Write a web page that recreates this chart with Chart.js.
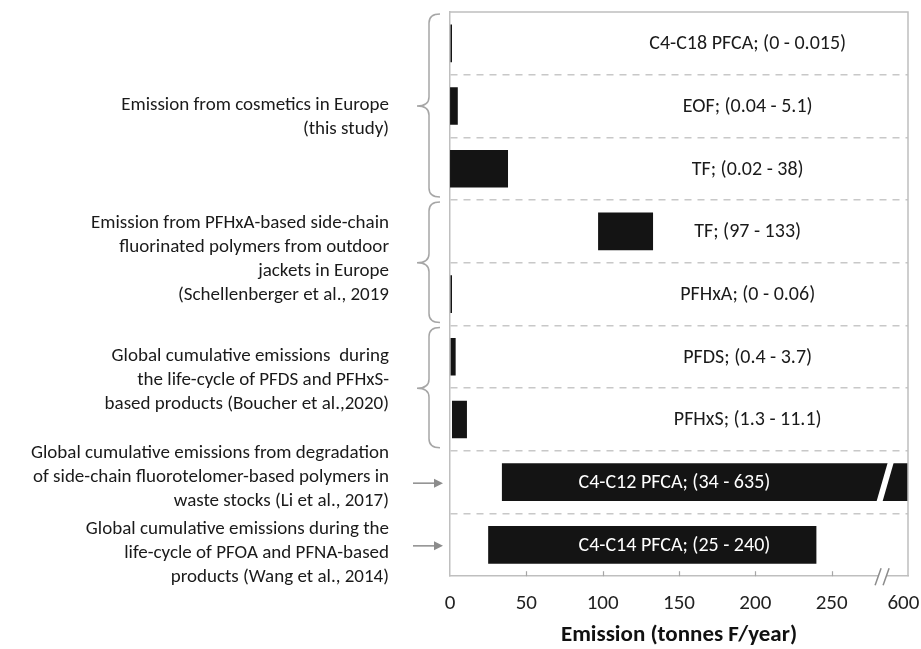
<!DOCTYPE html>
<html>
<head>
<meta charset="utf-8">
<script src="https://cdn.jsdelivr.net/npm/chart.js@4.4.1/dist/chart.umd.min.js"></script>
<style>
html,body{margin:0;padding:0;background:#fff;}
#wrap{width:921px;height:649px;position:relative;}
</style>
</head>
<body>
<div id="wrap"><canvas id="c" width="921" height="649"></canvas></div>
<script>
// ---------- data ----------
const categories = ['C4-C18 PFCA', 'EOF', 'TF', 'TF', 'PFHxA', 'PFDS', 'PFHxS', 'C4-C12 PFCA', 'C4-C14 PFCA'];
const lowValues  = [0, 0.04, 0.02, 97, 0, 0.4, 1.3, 34, 25];
const highValues = [0.015, 5.1, 38, 133, 0.06, 3.7, 11.1, 635, 240];
const rangeLabels = ['(0 - 0.015)', '(0.04 - 5.1)', '(0.02 - 38)', '(97 - 133)', '(0 - 0.06)', '(0.4 - 3.7)', '(1.3 - 11.1)', '(34 - 635)', '(25 - 240)'];
const labelInsideBar = [false, false, false, false, false, false, false, true, true];
const tickValues = [0, 50, 100, 150, 200, 250, 297];   // last tick sits past the axis break
const tickLabels = ['0', '50', '100', '150', '200', '250', '600'];
const axisTitle = 'Emission (tonnes F/year)';

const groupTexts = [
  ['Emission from cosmetics in Europe', '(this study)'],
  ['Emission from PFHxA-based side-chain', 'fluorinated polymers from outdoor', 'jackets in Europe', '(Schellenberger et al., 2019'],
  ['Global cumulative emissions  during', 'the life-cycle of PFDS and PFHxS-', 'based products (Boucher et al.,2020)'],
  ['Global cumulative emissions from degradation', 'of side-chain fluorotelomer-based polymers in', 'waste stocks (Li et al., 2017)'],
  ['Global cumulative emissions during the', 'life-cycle of PFOA and PFNA-based', 'products (Wang et al., 2014)']
];
const groupFirstRow = [0, 3, 5, 7, 8];
const groupLastRow  = [2, 4, 6, 7, 8];
const groupMarker   = ['brace', 'brace', 'brace', 'arrow', 'arrow'];

// ---------- layout / style ----------
const groupTextShift = [11, -4, -8, -5, 8];   // px, vertical nudge of each text block
const breakAt = 285;   // where the axis break is drawn (compressed scale)
const breakRow = 7;
const FONT = 'Carlito, Lato, "Open Sans", sans-serif';
const GREY = '#bfbfbf';
Chart.defaults.font.family = FONT;
Chart.defaults.color = '#222';

const decor = {
  id: 'decor',
  beforeDraw(chart) {
    const ctx = chart.ctx;
    ctx.save();
    ctx.fillStyle = '#fff';
    ctx.fillRect(0, 0, chart.width, chart.height);
    ctx.restore();
  },
  afterDatasetsDraw(chart) {
    const {ctx, chartArea: ca, scales: {x, y}} = chart;
    ctx.save();
    // frame top & right
    ctx.strokeStyle = GREY;
    ctx.lineWidth = 1.5;
    ctx.beginPath();
    ctx.moveTo(ca.left, ca.top);
    ctx.lineTo(ca.right, ca.top);
    ctx.lineTo(ca.right, ca.bottom);
    ctx.stroke();

    // inside tick marks
    ctx.strokeStyle = '#a6a6a6';
    ctx.lineWidth = 1.2;
    for (let i = 1; i < tickValues.length - 1; i++) {
      const px = Math.round(x.getPixelForValue(tickValues[i])) + 0.5;
      ctx.beginPath();
      ctx.moveTo(px, ca.bottom);
      ctx.lineTo(px, ca.bottom - 5);
      ctx.stroke();
    }

    // break on the long bar
    const bar = chart.getDatasetMeta(0).data[breakRow];
    const bp = bar.getProps(['y', 'height'], true);
    const bx = x.getPixelForValue(breakAt);
    const t = bp.y - bp.height / 2 - 2, b = bp.y + bp.height / 2 + 2;
    ctx.fillStyle = '#fff';
    ctx.beginPath();
    ctx.moveTo(bx + 3, t);
    ctx.lineTo(bx + 9, t);
    ctx.lineTo(bx - 3, b);
    ctx.lineTo(bx - 9, b);
    ctx.closePath();
    ctx.fill();

    // break on the axis
    const ay = ca.bottom;
    const ax = bx - 3;
    ctx.fillStyle = '#fff';
    ctx.beginPath();
    ctx.moveTo(ax - 4, ay + 2);
    ctx.lineTo(ax + 4, ay + 2);
    ctx.lineTo(ax + 5, ay - 2);
    ctx.lineTo(ax - 3, ay - 2);
    ctx.closePath();
    ctx.fill();
    ctx.strokeStyle = '#8c8c8c';
    ctx.lineWidth = 1.5;
    [-4, 4].forEach(d => {
      ctx.beginPath();
      ctx.moveTo(ax + d - 3, ay + 9);
      ctx.lineTo(ax + d + 3, ay - 8);
      ctx.stroke();
    });

    // row labels
    ctx.font = '20px ' + FONT;
    ctx.textAlign = 'center';
    ctx.textBaseline = 'middle';
    const w = ca.right - ca.left;
    for (let i = 0; i < categories.length; i++) {
      const yc = y.getPixelForValue(i);
      const inside = labelInsideBar[i];
      ctx.fillStyle = inside ? '#ffffff' : '#1a1a1a';
      const xc = inside ? ca.left + 0.49 * w : ca.left + 0.65 * w;
      ctx.fillText(categories[i] + '; ' + rangeLabels[i], xc, yc + 1);
    }

    // group texts and markers
    ctx.font = '19px ' + FONT;
    const textRight = ca.left - 61;
    const lineH = 24;
    for (let g = 0; g < groupTexts.length; g++) {
      const y0 = y.getPixelForValue(groupFirstRow[g]);
      const y1 = y.getPixelForValue(groupLastRow[g]);
      const half = (y.getPixelForValue(1) - y.getPixelForValue(0)) / 2;
      const top = y0 - half, bot = y1 + half;
      const yc = (y0 + y1) / 2;
      const lines = groupTexts[g];
      ctx.fillStyle = '#1a1a1a';
      ctx.textAlign = 'right';
      lines.forEach((ln, k) => {
        ctx.fillText(ln, textRight, yc + groupTextShift[g] + (k - (lines.length - 1) / 2) * lineH);
      });

      if (groupMarker[g] === 'brace') {
        const xE = ca.left - 10, xM = ca.left - 21, xT = ca.left - 33;
        const yT = top + 2, yB = bot - 3, r = 9;
        ctx.strokeStyle = '#a6a6a6';
        ctx.lineWidth = 1.5;
        ctx.beginPath();
        ctx.moveTo(xE, yT);
        ctx.quadraticCurveTo(xM, yT, xM, yT + r);
        ctx.lineTo(xM, yc - r);
        ctx.quadraticCurveTo(xM, yc, xT, yc);
        ctx.quadraticCurveTo(xM, yc, xM, yc + r);
        ctx.lineTo(xM, yB - r);
        ctx.quadraticCurveTo(xM, yB, xE, yB);
        ctx.stroke();
      } else {
        const xs = ca.left - 37, xe = ca.left - 7;
        ctx.strokeStyle = '#8c8c8c';
        ctx.fillStyle = '#8c8c8c';
        ctx.lineWidth = 1.5;
        ctx.beginPath();
        ctx.moveTo(xs, yc + 1);
        ctx.lineTo(xe - 8, yc + 1);
        ctx.stroke();
        ctx.beginPath();
        ctx.moveTo(xe, yc + 1);
        ctx.lineTo(xe - 9, yc - 3.5);
        ctx.lineTo(xe - 9, yc + 5.5);
        ctx.closePath();
        ctx.fill();
      }
    }
    ctx.restore();
  }
};

new Chart(document.getElementById('c'), {
  type: 'bar',
  data: {
    labels: categories,
    datasets: [{
      data: lowValues.map((v, i) => [v, highValues[i]]),
      backgroundColor: '#141414',
      borderWidth: 0,
      barPercentage: 0.6,
      categoryPercentage: 1,
      minBarLength: 2,
      clip: 0
    }]
  },
  options: {
    indexAxis: 'y',
    responsive: false,
    animation: false,
    events: [],
    layout: { padding: { left: 450, right: 13, top: 12, bottom: 0 } },
    plugins: { legend: { display: false }, tooltip: { enabled: false }, title: { display: false } },
    scales: {
      x: {
        type: 'linear',
        min: 0,
        max: 300,
        afterBuildTicks: s => { s.ticks = tickValues.map(v => ({ value: v })); },
        afterFit: s => { s.paddingRight = 0; },
        ticks: {
          callback: (v, i) => tickLabels[i],
          font: { size: 21 },
          color: '#222',
          padding: 0,
          maxRotation: 0,
          autoSkip: false
        },
        grid: { display: true, drawOnChartArea: false, drawTicks: true, tickLength: 15, tickColor: 'rgba(0,0,0,0)' },
        border: { display: true, color: GREY, width: 1.5 },
        title: {
          display: true,
          text: axisTitle,
          font: { size: 23, weight: 'bold' },
          color: '#111',
          padding: { top: 5, bottom: 0 }
        }
      },
      y: {
        type: 'category',
        offset: true,
        ticks: { display: false },
        grid: {
          offset: true,
          drawTicks: false,
          lineWidth: 1.5,
          color: c => (c.type !== 'tick' || c.index === 0) ? 'rgba(0,0,0,0)' : '#c8c8c8'
        },
        border: { display: true, color: GREY, width: 1.5, dash: [7, 6] }
      }
    }
  },
  plugins: [decor]
});
</script>
</body>
</html>
